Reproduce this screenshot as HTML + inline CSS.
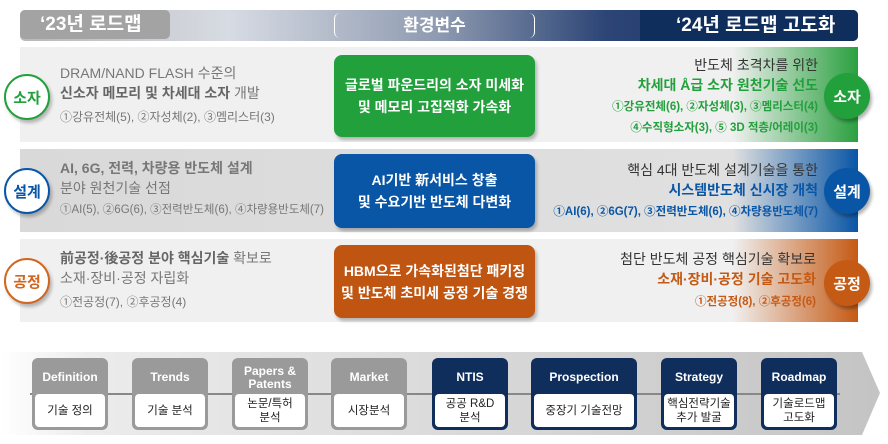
<!DOCTYPE html>
<html><head><meta charset="utf-8"><style>
*{margin:0;padding:0;box-sizing:border-box}
body{width:888px;height:444px;background:#fff;position:relative;overflow:hidden;font-family:"Liberation Sans","Noto Sans CJK KR",sans-serif}
.a{position:absolute}
.row{position:absolute;left:20px;width:838px}
.lc{position:absolute;width:46px;height:46px;border-radius:50%;background:#fff;border:2px solid;font-weight:bold;font-size:15px;display:flex;align-items:center;justify-content:center;box-shadow:2px 3px 3px rgba(0,0,0,.25)}
.rc{position:absolute;width:46px;height:46px;border-radius:50%;color:#fff;font-weight:bold;font-size:15px;display:flex;align-items:center;justify-content:center;box-shadow:2px 3px 3px rgba(0,0,0,.3)}
.mid{position:absolute;left:334px;width:201px;border-radius:8px;color:#fff;font-weight:bold;font-size:14px;line-height:22px;display:flex;align-items:center;justify-content:center;text-align:center;box-shadow:2px 3px 3px rgba(0,0,0,.25)}
.lt{position:absolute;left:60px;color:#777;font-size:14px;line-height:20px}
.rt{position:absolute;right:70px;text-align:right;font-size:14px;line-height:20px;color:#333}
.box{position:absolute;top:358px;height:72px;border-radius:6px;padding:3px}
.box .h{height:33px;color:#fff;font-weight:bold;font-size:12px;display:flex;align-items:center;justify-content:center;text-align:center;line-height:13px}
.box .w{background:#fff;height:33px;border-radius:4px;font-size:11.5px;display:flex;align-items:center;justify-content:center;text-align:center;line-height:14px;color:#222}
.g{background:#9a9a9a}.n{background:#0f2e5c}
</style></head><body>
<div class="a" style="left:20px;top:10px;width:838px;height:31px;border-radius:5px;background:linear-gradient(90deg,#b8b8b8 0%,#d7dbe3 25%,#8e9ab0 50%,#2c4576 70%,#0f2e5c 100%)"></div>
<div class="a" style="left:20px;top:10px;width:150px;height:29px;border-radius:5px;background:#a3a3a3;color:#fff;font-weight:bold;font-size:19px;padding-left:20px;line-height:29px">‘23년 로드맵</div>
<div class="a" style="left:640px;top:10px;width:218px;height:31px;border-radius:0 5px 5px 0;background:#0f2e5c;color:#fff;font-weight:bold;font-size:19px;line-height:31px;padding-left:36px">‘24년 로드맵 고도화</div>
<div class="a" style="left:334px;top:13px;width:201px;height:25px;border:1.5px solid #fff;border-top:none;border-bottom:none;border-radius:6px;color:#fff;font-weight:bold;font-size:17px;text-align:center;line-height:25px">환경변수</div>
<div class="row" style="top:47px;height:95px;background:linear-gradient(90deg,#f0f0f0 0%,#f0f0f0 85%,#2aa03f 100%)"></div>
<div class="row" style="top:149px;height:83px;background:linear-gradient(90deg,#d9d9d9 0%,#e0e0e0 85%,#0a56a6 100%)"></div>
<div class="row" style="top:239px;height:83px;background:linear-gradient(90deg,#f0f0f0 0%,#f0f0f0 85%,#c55a14 100%)"></div>

<div class="lc" style="left:4px;top:74px;border-color:#22a03c;color:#22a03c">소자</div>
<div class="lc" style="left:4px;top:168px;border-color:#0a56a6;color:#0a56a6">설계</div>
<div class="lc" style="left:4px;top:258px;border-color:#d0661f;color:#d0661f">공정</div>
<div class="rc" style="left:824px;top:73px;background:#22a03c">소자</div>
<div class="rc" style="left:824px;top:168px;background:#0a56a6">설계</div>
<div class="rc" style="left:824px;top:260px;background:#c55a14">공정</div>

<div class="mid" style="top:55px;height:82px;background:#22a03c">글로벌 파운드리의 소자 미세화<br>및 메모리 고집적화 가속화</div>
<div class="mid" style="top:154px;height:74px;background:#0a56a6">AI기반 新서비스 창출<br>및 수요기반 반도체 다변화</div>
<div class="mid" style="top:245px;height:73px;background:#c05512">HBM으로 가속화된첨단 패키징<br>및 반도체 초미세 공정 기술 경쟁</div>

<div class="lt" style="top:63px">DRAM/NAND FLASH 수준의<br><b style="color:#666">신소자 메모리 및 차세대 소자</b> 개발<br><span style="font-size:12px;line-height:28px">①강유전체(5), ②자성체(2), ③멤리스터(3)</span></div>
<div class="lt" style="top:158px"><b style="color:#777">AI, 6G, 전력, 차량용 반도체 설계</b><br>분야 원천기술 선점<br><span style="font-size:11.5px">①AI(5), ②6G(6), ③전력반도체(6), ④차량용반도체(7)</span></div>
<div class="lt" style="top:248px"><b style="color:#666">前공정·後공정 분야 핵심기술</b> 확보로<br>소재·장비·공정 자립화<br><span style="font-size:12px;line-height:28px">①전공정(7), ②후공정(4)</span></div>

<div class="rt" style="top:55px">반도체 초격차를 위한<br><b style="color:#22a03c;font-size:14px">차세대 Å급 소자 원천기술 선도</b><br><b style="color:#22a03c;font-size:11.5px;line-height:18px">①강유전체(6), ②자성체(3), ③멤리스터(4)<br>④수직형소자(3), ⑤ 3D 적층/어레이(3)</b></div>
<div class="rt" style="top:160px">핵심 4대 반도체 설계기술을 통한<br><b style="color:#0a56a6;font-size:14px">시스템반도체 신시장 개척</b><br><b style="color:#0a56a6;font-size:11.5px">①AI(6), ②6G(7), ③전력반도체(6), ④차량용반도체(7)</b></div>
<div class="rt" style="top:249px;right:72px">첨단 반도체 공정 핵심기술 확보로<br><b style="color:#c55a14;font-size:14px">소재·장비·공정 기술 고도화</b><br><b style="color:#c55a14;font-size:11.5px;line-height:26px">①전공정(8), ②후공정(6)</b></div>

<svg class="a" style="left:0;top:350px" width="888" height="88"><defs><linearGradient id="bg" x1="0" x2="1"><stop offset="0" stop-color="#fff"/><stop offset=".1" stop-color="#ececec"/><stop offset="1" stop-color="#c4c4c4"/></linearGradient></defs><polygon points="0,2 862,2 880,43 862,85 0,85" fill="url(#bg)"/><line x1="30" y1="44" x2="840" y2="44" stroke="#888" stroke-width="2"/></svg>
<div class="box g" style="left:32px;width:76px"><div class="h">Definition</div><div class="w">기술 정의</div></div>
<div class="box g" style="left:132px;width:76px"><div class="h">Trends</div><div class="w">기술 분석</div></div>
<div class="box g" style="left:232px;width:76px"><div class="h">Papers &amp;<br>Patents</div><div class="w">논문/특허<br>분석</div></div>
<div class="box g" style="left:331px;width:76px"><div class="h">Market</div><div class="w">시장분석</div></div>
<div class="box n" style="left:432px;width:76px"><div class="h">NTIS</div><div class="w">공공 R&amp;D<br>분석</div></div>
<div class="box n" style="left:531px;width:106px"><div class="h">Prospection</div><div class="w">중장기 기술전망</div></div>
<div class="box n" style="left:661px;width:76px"><div class="h">Strategy</div><div class="w">핵심전략기술<br>추가 발굴</div></div>
<div class="box n" style="left:761px;width:76px"><div class="h">Roadmap</div><div class="w">기술로드맵<br>고도화</div></div>
</body></html>
